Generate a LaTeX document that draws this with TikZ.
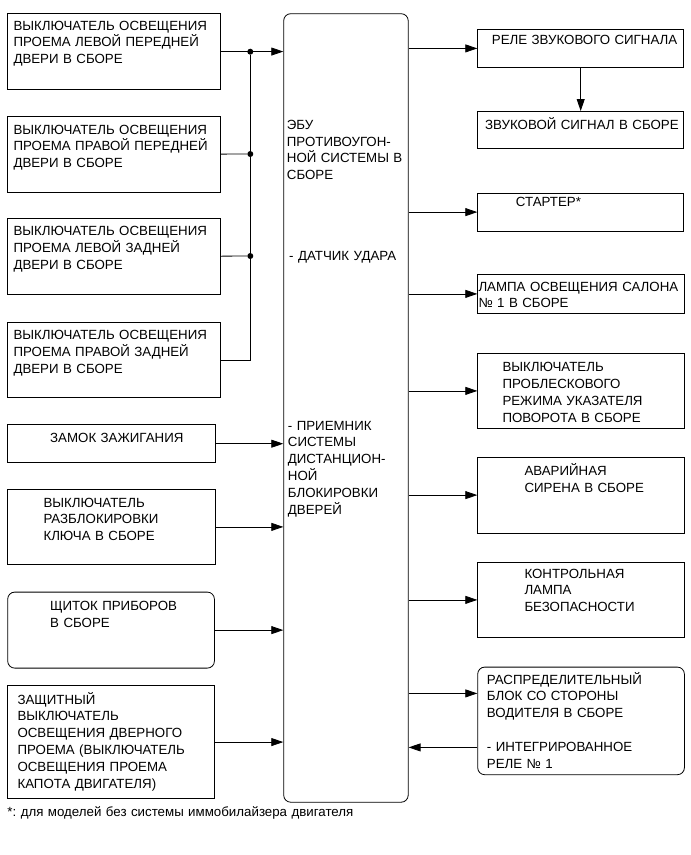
\documentclass[tikz,border=0pt]{standalone}
\usepackage{fontspec}
\setmainfont{Liberation Sans}
\usetikzlibrary{arrows.meta,positioning,shapes.misc}
\frenchspacing

\begin{document}
\begin{tikzpicture}[x=1pt,y=-1pt,
    box/.style={draw, line width=0.8pt, anchor=north west, inner sep=0pt},
    rbox/.style={box, rounded corners=7pt},
    lbl/.style={anchor=base west, inner sep=0pt, text width=230pt, align=left,
      font=\fontsize{13.3}{16.8}\selectfont},
    wire/.style={line width=0.8pt},
    arr/.style={wire, -{Triangle[length=12pt,width=8pt]}},
    dot/.style={circle, fill, inner sep=0pt, minimum size=6pt}]
  \useasboundingbox (0,0) rectangle (691,855);

  \node [rbox, minimum width=124.5pt, minimum height=788.5pt] (ecu) at (283.3,13.3) {};
  \node [lbl] (ecu1) at (286.7,129.3) {ЭБУ\\ПРОТИВОУГОН-\\НОЙ СИСТЕМЫ В\\СБОРЕ};
  \node [lbl] (ecu2) at (289,260) {- ДАТЧИК УДАРА};
  \node [lbl] (ecu3) at (287.7,430) {- ПРИЕМНИК\\СИСТЕМЫ\\ДИСТАНЦИОН-\\НОЙ\\БЛОКИРОВКИ\\ДВЕРЕЙ};

  \node [box, minimum width=212.7pt, minimum height=75.7pt] (box1) at (7.3,13.3) {};
  \node [lbl] (txt1) at (13.3,30) {ВЫКЛЮЧАТЕЛЬ ОСВЕЩЕНИЯ\\ПРОЕМА ЛЕВОЙ ПЕРЕДНЕЙ\\ДВЕРИ В СБОРЕ};
  \node [box, minimum width=212.7pt, minimum height=76.3pt] (box2) at (7.3,116) {};
  \node [lbl] (txt2) at (13.3,134) {ВЫКЛЮЧАТЕЛЬ ОСВЕЩЕНИЯ\\ПРОЕМА ПРАВОЙ ПЕРЕДНЕЙ\\ДВЕРИ В СБОРЕ};
  \node [box, minimum width=212.7pt, minimum height=76pt] (box3) at (7.3,218.3) {};
  \node [lbl] (txt3) at (13.3,235.7) {ВЫКЛЮЧАТЕЛЬ ОСВЕЩЕНИЯ\\ПРОЕМА ЛЕВОЙ ЗАДНЕЙ\\ДВЕРИ В СБОРЕ};
  \node [box, minimum width=212.7pt, minimum height=75.6pt] (box4) at (7.3,321.7) {};
  \node [lbl] (txt4) at (13.3,339.7) {ВЫКЛЮЧАТЕЛЬ ОСВЕЩЕНИЯ\\ПРОЕМА ПРАВОЙ ЗАДНЕЙ\\ДВЕРИ В СБОРЕ};
  \node [box, minimum width=207.7pt, minimum height=38pt] (box5) at (7.3,424.3) {};
  \node [lbl] (txt5) at (50,442.5) {ЗАМОК ЗАЖИГАНИЯ};
  \node [box, minimum width=207.7pt, minimum height=75pt] (box6) at (7.3,489) {};
  \node [lbl] (txt6) at (43.3,507) {ВЫКЛЮЧАТЕЛЬ\\РАЗБЛОКИРОВКИ\\КЛЮЧА В СБОРЕ};
  \node [rbox, minimum width=206.7pt, minimum height=76pt] (box7) at (7.3,591.7) {};
  \node [lbl] (txt7) at (50,610.5) {ЩИТОК ПРИБОРОВ\\В СБОРЕ};
  \node [box, minimum width=206.7pt, minimum height=113.3pt] (box8) at (7.3,685) {};
  \node [lbl] (txt8) at (17.3,704) {ЗАЩИТНЫЙ\\ВЫКЛЮЧАТЕЛЬ\\ОСВЕЩЕНИЯ ДВЕРНОГО\\ПРОЕМА (ВЫКЛЮЧАТЕЛЬ\\ОСВЕЩЕНИЯ ПРОЕМА\\КАПОТА ДВИГАТЕЛЯ)};

  \node [box, minimum width=206pt, minimum height=37.4pt] (out1) at (477.3,29.3) {};
  \node [lbl] (res1) at (491.7,44.5) {РЕЛЕ ЗВУКОВОГО СИГНАЛА};
  \node [box, minimum width=206pt, minimum height=37.3pt] (out2) at (477.3,111) {};
  \node [lbl] (res2) at (485,129.5) {ЗВУКОВОЙ СИГНАЛ В СБОРЕ};
  \node [box, minimum width=206pt, minimum height=38pt] (out3) at (477.3,192.7) {};
  \node [lbl] (res3) at (515.7,206) {СТАРТЕР*};
  \node [box, minimum width=206.7pt, minimum height=38.4pt] (out4) at (477.3,274.3) {};
  \node [lbl] (res4) at (478.3,291) {ЛАМПА ОСВЕЩЕНИЯ САЛОНА\\№ 1 В СБОРЕ};
  \node [box, minimum width=206.7pt, minimum height=75.6pt] (out5) at (477.3,352.7) {};
  \node [lbl] (res5) at (502.3,371.7) {ВЫКЛЮЧАТЕЛЬ\\ПРОБЛЕСКОВОГО\\РЕЖИМА УКАЗАТЕЛЯ\\ПОВОРОТА В СБОРЕ};
  \node [box, minimum width=206.7pt, minimum height=76pt] (out6) at (477.3,456.7) {};
  \node [lbl] (res6) at (524.3,475.7) {АВАРИЙНАЯ\\СИРЕНА В СБОРЕ};
  \node [box, minimum width=206.7pt, minimum height=75.6pt] (out7) at (477.3,561.7) {};
  \node [lbl] (res7) at (524.3,578) {КОНТРОЛЬНАЯ\\ЛАМПА\\БЕЗОПАСНОСТИ};
  \node [rbox, minimum width=206.7pt, minimum height=107.6pt] (out8) at (477.3,666.7) {};
  \node [lbl] (res8) at (486.7,684) {РАСПРЕДЕЛИТЕЛЬНЫЙ\\БЛОК СО СТОРОНЫ\\ВОДИТЕЛЯ В СБОРЕ\\[16.8pt]- ИНТЕГРИРОВАННОЕ\\РЕЛЕ № 1};

  \node [dot] (j1) at (250.3,51.7) {};
  \node [dot] (j2) at (250.3,154) {};
  \node [dot] (j3) at (250.3,256) {};
  \draw[arr] (box1) -- (box1 -| ecu.west);
  \draw[wire] (box2) -- (j2);
  \draw[wire] (box3) -- (j3);
  \draw[wire] (j1) |- (box4);
  \draw[arr] (box5) -- (box5 -| ecu.west);
  \draw[arr] (box6) -- (box6 -| ecu.west);
  \draw[arr] (box7) -- (box7 -| ecu.west);
  \draw[arr] (box8) -- (box8 -| ecu.west);

  \draw[arr] (out1 -| ecu.east) -- (out1);
  \draw[arr] (out1) -- (out2);
  \draw[arr] (out3 -| ecu.east) -- (out3);
  \draw[arr] (out4 -| ecu.east) -- (out4);
  \draw[arr] (out5 -| ecu.east) -- (out5);
  \draw[arr] (out6 -| ecu.east) -- (out6);
  \draw[arr] (out7 -| ecu.east) -- (out7);
  \draw[arr] ([yshift=27.5pt]out8.west -| ecu.east) -- ([yshift=27.5pt]out8.west);
  \draw[arr] ([yshift=-26.5pt]out8.west) -- ([yshift=-26.5pt]out8.west -| ecu.east);

  \node [lbl, text width=400pt] (note) at (7.3,816.5) {*: для моделей без системы иммобилайзера двигателя};
\end{tikzpicture}
\end{document}
